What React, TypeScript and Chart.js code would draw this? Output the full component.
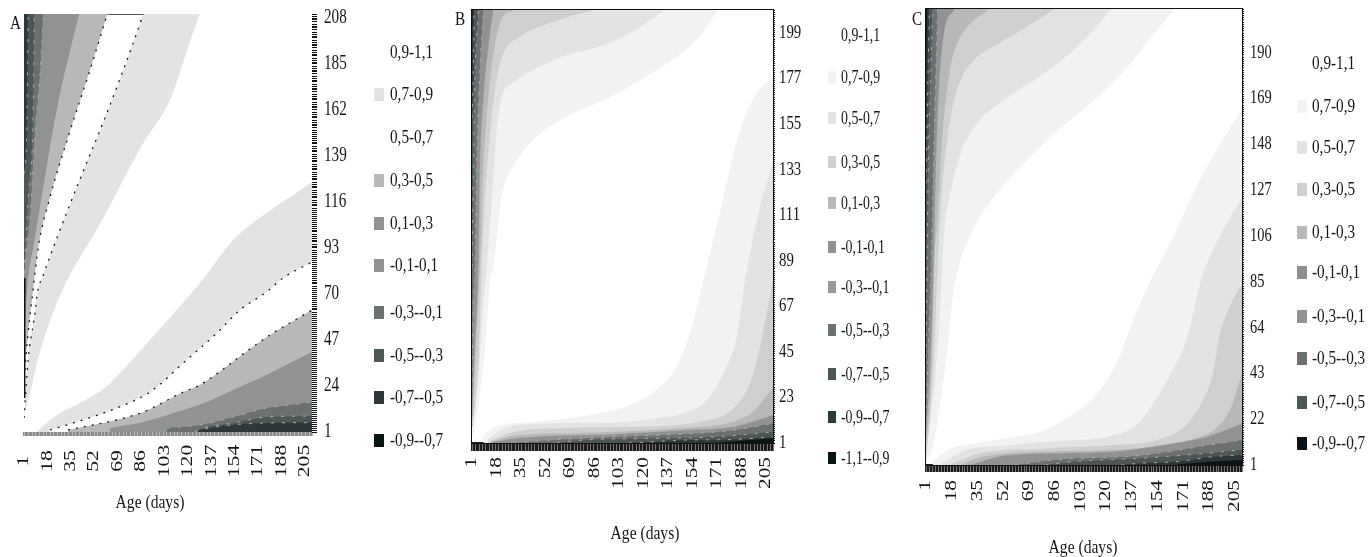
import React, { useEffect, useRef } from "react";
import { Chart, registerables } from "chart.js";

Chart.register(...registerables);

type Pt = [number, number];

// ---------- Shared data ----------
const xTickLabels = [1, 18, 35, 52, 69, 86, 103, 120, 137, 154, 171, 188, 205];
const aYTickLabels = [1, 24, 47, 70, 93, 116, 139, 162, 185, 208];
const bYTickLabels = [1, 23, 45, 67, 89, 111, 133, 155, 177, 199];
const cYTickLabels = [1, 22, 43, 64, 85, 106, 127, 148, 169, 190];
const allDays = Array.from({ length: 210 }, (_, i) => i + 1);

const aLegendLabels = ["0,9-1,1", "0,7-0,9", "0,5-0,7", "0,3-0,5", "0,1-0,3", "-0,1-0,1", "-0,3--0,1", "-0,5--0,3", "-0,7--0,5", "-0,9--0,7"];
const aLegendColors = ["#ffffff", "#e3e3e3", "#ffffff", "#b8b8b8", "#929292", "#929292", "#6d7070", "#4f5656", "#2f3839", "#0a1414"];
const bLegendLabels = ["0,9-1,1", "0,7-0,9", "0,5-0,7", "0,3-0,5", "0,1-0,3", "-0,1-0,1", "-0,3--0,1", "-0,5--0,3", "-0,7--0,5", "-0,9--0,7", "-1,1--0,9"];
const bLegendColors = ["#ffffff", "#f2f2f2", "#e3e3e3", "#cfcfcf", "#b8b8b8", "#929292", "#999999", "#6d7070", "#4f5656", "#2f3839", "#0a1414"];
const cLegendLabels = ["0,9-1,1", "0,7-0,9", "0,5-0,7", "0,3-0,5", "0,1-0,3", "-0,1-0,1", "-0,3--0,1", "-0,5--0,3", "-0,7--0,5", "-0,9--0,7"];
const cLegendColors = ["#ffffff", "#f2f2f2", "#e3e3e3", "#cfcfcf", "#b8b8b8", "#8f8f8f", "#929292", "#6d7070", "#4f5656", "#0a1414"];

// ---------- Panel A contour boundaries (age, day) ----------
const aUpper07: Pt[] = [[1, 8], [1.7, 10.5], [5.4, 20.5], [11, 37], [22, 60.5], [34.4, 79.5], [53.7, 102], [87.6, 145.5], [107, 167], [122.7, 198.7], [128.7, 210]];
const aUpper05: Pt[] = [[1, 8], [1.2, 10], [4, 37], [9, 60.5], [10.7, 70.5], [15, 79.5], [35.6, 117], [62, 162], [80, 195], [87.6, 210]];
const aUpper03: Pt[] = [[1, 24], [1.2, 27], [4, 50.5], [7.6, 72], [11.4, 93.5], [19.9, 118.5], [33, 148.5], [48.9, 182], [61.5, 210]];
const aUpper01: Pt[] = [[1, 50], [4.1, 78.5], [7.8, 93.5], [15, 123.5], [24.7, 162], [35.6, 195], [41, 210]];
const aUpperM03: Pt[] = [[1, 75], [1.7, 83.5], [5.4, 108.5], [9, 150.5], [13, 183.5], [15, 210]];
const aUpperM05: Pt[] = [[1, 80], [4, 117], [7.8, 167], [8.5, 210]];
const aUpperM07: Pt[] = [[1, 130], [3, 150.5], [4, 210]];
const aLower07: Pt[] = [[10.2, 1], [24.7, 9.5], [41.6, 15.5], [61, 23.7], [68.3, 28.7], [92.4, 47], [111.8, 62], [128.7, 75.5], [152.9, 97], [177, 110.5], [194, 118.5], [210, 126]];
const aLower05: Pt[] = [[19.9, 2], [52.5, 9], [68.3, 13], [92.4, 21], [119, 37], [141, 50.5], [157.7, 62], [177, 71], [189, 78], [210, 86]];
const aLower03: Pt[] = [[33, 2], [51, 4.5], [68, 7], [87.6, 11], [116.6, 21], [128.7, 24.5], [148, 33.7], [162, 41], [179.5, 49.5], [194, 55.5], [210, 62]];
const aLower01: Pt[] = [[63.4, 3], [87.6, 6], [111.8, 11], [133.6, 16], [152.9, 22], [177, 29.5], [194, 35.5], [210, 41]];
const aLowerM03: Pt[] = [[104.5, 3], [128.7, 4.5], [152.9, 8.5], [177, 13], [194, 14.5], [210, 16]];
const aLowerM05: Pt[] = [[125, 1], [129, 2.5], [153, 5.5], [177, 8.5], [210, 9]];
const aLowerM07: Pt[] = [[125, 1], [129, 2], [177, 5.5], [210, 5.7]];
const aTopEdge: Pt[] = [[61.5, 210], [87.6, 210]];
const aLeftEdge: Pt[] = [[1.3, 18], [1.4, 78]];

// ---------- Panel B contour boundaries ----------
const bUpper07: Pt[] = [[1, 3], [2, 5.6], [6.6, 25], [11.2, 55.5], [13.5, 79.7], [15.8, 86], [21.6, 120], [29.7, 134.5], [43.6, 147.4], [67, 158.6], [97, 168], [129, 181], [157, 195.7], [172, 210]];
const bUpper05: Pt[] = [[1, 8], [1.9, 10.5], [5.4, 31.4], [8.4, 63.6], [11.2, 86], [14.7, 118], [18, 150.6], [21.6, 168], [29.7, 175], [43.6, 181], [67, 188.4], [83, 191], [106, 197], [135, 210]];
const bUpper03: Pt[] = [[1, 10.5], [3, 18.5], [6, 47.5], [7.7, 86], [10, 118], [13.5, 150.6], [18, 176], [22.8, 189], [34, 197], [55, 203.7], [85, 210]];
const bUpper01: Pt[] = [[1, 15], [3.8, 47.5], [6.5, 86], [8.9, 134.5], [11.2, 158.6], [14.7, 183], [20.4, 203.7], [29.7, 210]];
const bUpperM01: Pt[] = [[1, 9], [3, 47.5], [5.4, 86], [6.6, 134.5], [8.9, 166.7], [13, 195.7], [15.8, 210]];
const bUpperM05: Pt[] = [[1, 15], [1.5, 55], [3, 86], [4.2, 134.5], [6.6, 183], [8.9, 210]];
const bUpperM07: Pt[] = [[1, 86], [2, 134], [3, 175], [5.4, 210]];
const bUpperM09: Pt[] = [[1, 158], [2, 183], [2.4, 210]];
const bUpperM11: Pt[] = [[1, 195], [1.5, 210]];
const bLower07: Pt[] = [[8.9, 4.8], [18, 8.8], [43.6, 11.3], [66.7, 12.9], [89.9, 15.3], [113, 20], [129, 26.6], [143, 37.8], [152.4, 54], [159, 71.6], [164, 86], [173, 112], [185, 147], [196, 167], [210, 178]];
const bLower05: Pt[] = [[12, 3], [25, 8.5], [55, 10.5], [101, 11], [124.6, 12.4], [147.8, 15.3], [164, 21.7], [175.5, 34.6], [184.8, 52], [190.6, 79.7], [201, 115], [210, 136]];
const bLower03: Pt[] = [[13, 2], [32, 6.6], [66.7, 8.3], [124.6, 9], [159, 11.3], [182.5, 17.7], [194, 29.8], [201, 47.5], [205.6, 63.6], [210, 79.7]];
const bLower01: Pt[] = [[14, 1.5], [29.7, 4.5], [78, 6], [124.6, 7.2], [159, 8.8], [182.5, 11.3], [198.7, 17.7], [205.6, 24], [210, 28]];
const bLowerM01: Pt[] = [[15, 1.5], [36.6, 3.6], [101.5, 5.3], [147.8, 7.2], [182.5, 8.8], [210, 14.5]];
const bLowerM05: Pt[] = [[30, 1], [55, 2.4], [101, 4], [148, 5.3], [182.5, 7.2], [210, 10.5]];
const bLowerM07: Pt[] = [[60, 1], [78, 2.4], [124.6, 3.2], [170.9, 4], [210, 6.4]];
const bLowerM09: Pt[] = [[110, 1], [124.6, 1.5], [148, 2.4], [182.5, 2.7], [210, 4]];
const bLowerM11: Pt[] = [[171, 1], [194, 2.4], [210, 3.2]];

// ---------- Panel C contour boundaries ----------
const cUpper07: Pt[] = [[1, 2], [2, 3.3], [6.5, 12.5], [11, 32.4], [15.3, 55], [18.7, 78], [24, 95], [33, 110], [46, 124], [64, 138], [86, 153], [112.5, 168.4], [134.6, 183.7], [152, 199], [165.5, 210]];
const cUpper05: Pt[] = [[1, 10], [2, 12.5], [6.5, 37], [9.8, 66], [13, 107], [17.6, 127], [24, 144], [35, 157.7], [52.9, 168.4], [72.7, 177.6], [88, 185], [108, 197.5], [123.5, 210]];
const cUpper03: Pt[] = [[1, 5], [1.4, 6.4], [3.2, 20], [6.5, 55], [8.7, 92], [11, 122.6], [14.2, 145.5], [18.7, 165.4], [24, 177.6], [33, 186.8], [48.5, 194], [68, 202], [86, 210]];
const cUpper01: Pt[] = [[1, 12], [2, 17], [4.8, 47.7], [6.5, 92], [8.7, 115], [12, 153], [16.5, 180.7], [20.9, 193], [28.6, 202], [43, 210]];
const cUpperM01: Pt[] = [[1, 15], [2, 24.7], [4.3, 55], [6, 92], [7.6, 138], [9.8, 176], [13, 199], [19.8, 210]];
const cUpperM03: Pt[] = [[1, 17], [2.5, 55], [4.3, 92], [5.4, 122.6], [7, 168], [8.7, 210]];
const cUpperM05: Pt[] = [[1, 50], [1.7, 92], [2.5, 138], [3.9, 176], [5.4, 210]];
const cUpperM07: Pt[] = [[1, 130], [2, 168], [3.2, 210]];
const cUpperM09: Pt[] = [[1, 180], [1.7, 210]];
const cLower07: Pt[] = [[5.4, 2.6], [17.6, 8.7], [33, 11], [55, 13.3], [77, 16.3], [99, 24.7], [112.5, 32.4], [125.7, 46], [139, 69], [147.8, 83], [165.5, 107], [183, 133], [198.6, 151.6], [210, 164]];
const cLower05: Pt[] = [[11, 1.8], [26.4, 7.5], [55, 10], [88, 12], [121, 14], [139, 18.6], [150, 27.8], [163, 43], [174, 60], [183, 86], [194, 104], [210, 124]];
const cLower03: Pt[] = [[17.6, 1.5], [37.4, 6.5], [77, 8.5], [121, 10], [154, 12.5], [172, 18.6], [183, 29.3], [190.8, 43], [195, 60], [200.8, 72], [210, 84]];
const cLower01: Pt[] = [[24, 1], [39.6, 5], [99, 7.5], [143, 8.7], [176.5, 12.5], [194, 18.6], [203, 27.8], [210, 43]];
const cLowerM01: Pt[] = [[30, 1], [55, 5.5], [121, 7], [165, 11], [187, 14], [210, 20]];
const cLowerM03: Pt[] = [[60, 1], [88, 3.5], [143, 5.4], [187, 10], [210, 12.5]];
const cLowerM05: Pt[] = [[80, 1], [99, 2.6], [143, 4.1], [187, 6.4], [210, 8]];
const cLowerM07: Pt[] = [[130, 1], [143, 1.8], [167.6, 2.6], [191.9, 4.9], [210, 5.6]];
const cLowerM09: Pt[] = [[167.6, 1.3], [191.9, 2.6], [210, 3.3]];

// ---------- Styling ----------
const SERIF = '"Liberation Serif", "Times New Roman", serif';
const INK = "#161616";

type Line = "none" | "dash" | "speck" | "solid";
type Band = { pts: Pt[]; color: string; fill: "start" | "end" | false; line: Line; width: number };
const band = (pts: Pt[], color: string, fill: "start" | "end" | false, line: Line = "none", width = 0): Band => ({ pts, color, fill, line, width });
const dark = (pts: Pt[], color: string, fill: "start" | "end"): Band => band(pts, color, fill, "speck", 1);

type PanelCfg = {
  letter: string; letterX: number; letterY: number;
  left: number; width: number;
  plot: { l: number; t: number; r: number; b: number };
  bands: Band[];
  yLabels: number[];
  tickLenX: number; tickLenY: number; tickColorX: string; tickWidthX: number; frame: boolean;
  xFont: number; xStretch: number; xAnchor: number; xAlign: "left" | "right" | "center";
  yFont: number; yStretch: number; yTextX: number;
  titleX: number; titleY: number;
  legendLabels: string[]; legendColors: string[]; legendRows: number[];
  swatchX: number; swatchW: number; swatchH: number; textX: number; legendFont: number; legendStretch: number;
};

const panels: PanelCfg[] = [
  {
    letter: "A", letterX: 10, letterY: 24, left: 0, width: 455,
    plot: { l: 24, t: 14, r: 312, b: 432 },
    bands: [
      band(aLeftEdge, "#111111", false, "solid", 2),
      band(aTopEdge, "#555555", false, "solid", 2),
      dark(aUpperM07, "#2f3839", "end"), dark(aUpperM05, "#4f5656", "end"), dark(aUpperM03, "#6d7070", "end"),
      band(aUpper01, "#929292", "end"), band(aUpper03, "#b8b8b8", "end", "dash", 1.3), band(aUpper05, "#ffffff", "end", "dash", 1.3), band(aUpper07, "#e3e3e3", "end"),
      dark(aLowerM07, "#2f3839", "start"), dark(aLowerM05, "#4f5656", "start"), dark(aLowerM03, "#6d7070", "start"),
      band(aLower01, "#929292", "start"), band(aLower03, "#b8b8b8", "start", "dash", 1.3), band(aLower05, "#ffffff", "start", "dash", 1.3), band(aLower07, "#e3e3e3", "start"),
    ],
    yLabels: aYTickLabels, tickLenX: 4, tickLenY: 5, tickColorX: "#8a8a8a", tickWidthX: 1.6, frame: false,
    xFont: 16, xStretch: 1.35, xAnchor: 461, xAlign: "center",
    yFont: 20, yStretch: 0.76, yTextX: 324, titleX: 150, titleY: 503,
    legendLabels: aLegendLabels, legendColors: aLegendColors,
    legendRows: [52, 94, 137, 180, 223, 265, 312, 355, 397, 440],
    swatchX: 374, swatchW: 10, swatchH: 13, textX: 390, legendFont: 19, legendStretch: 0.8,
  },
  {
    letter: "B", letterX: 455, letterY: 20, left: 455, width: 453,
    plot: { l: 472, t: 10, r: 773, b: 443 },
    bands: [
      band(bUpperM11, "#0a1414", "end"), dark(bUpperM09, "#2f3839", "end"), dark(bUpperM07, "#4f5656", "end"), dark(bUpperM05, "#6d7070", "end"),
      dark(bUpperM01, "#929292", "end"), band(bUpper01, "#b8b8b8", "end"), band(bUpper03, "#cfcfcf", "end"), band(bUpper05, "#e3e3e3", "end"), band(bUpper07, "#f2f2f2", "end"),
      band(bLowerM11, "#0a1414", "start"), dark(bLowerM09, "#2f3839", "start"), dark(bLowerM07, "#4f5656", "start"), dark(bLowerM05, "#6d7070", "start"),
      dark(bLowerM01, "#929292", "start"), band(bLower01, "#b8b8b8", "start"), band(bLower03, "#cfcfcf", "start"), band(bLower05, "#e3e3e3", "start"), band(bLower07, "#f2f2f2", "start"),
    ],
    yLabels: bYTickLabels, tickLenX: 8, tickLenY: 2, tickColorX: "#1c1c1c", tickWidthX: 1.6, frame: true,
    xFont: 17, xStretch: 1.25, xAnchor: 457, xAlign: "right",
    yFont: 19, yStretch: 0.78, yTextX: 779, titleX: 645, titleY: 534,
    legendLabels: bLegendLabels, legendColors: bLegendColors,
    legendRows: [35, 77, 118, 162, 203, 247, 287, 330, 374, 417, 458],
    swatchX: 828, swatchW: 8, swatchH: 12, textX: 841, legendFont: 18, legendStretch: 0.77,
  },
  {
    letter: "C", letterX: 912, letterY: 20, left: 908, width: 460,
    plot: { l: 926, t: 9, r: 1242, b: 465 },
    bands: [
      band(cUpperM09, "#0a1414", "end"), dark(cUpperM07, "#2f3839", "end"), dark(cUpperM05, "#4f5656", "end"), dark(cUpperM03, "#6d7070", "end"),
      dark(cUpperM01, "#929292", "end"), band(cUpper01, "#b8b8b8", "end"), band(cUpper03, "#cfcfcf", "end"), band(cUpper05, "#e3e3e3", "end"), band(cUpper07, "#f2f2f2", "end"),
      band(cLowerM09, "#0a1414", "start"), dark(cLowerM07, "#2f3839", "start"), dark(cLowerM05, "#4f5656", "start"), dark(cLowerM03, "#6d7070", "start"),
      dark(cLowerM01, "#929292", "start"), band(cLower01, "#b8b8b8", "start"), band(cLower03, "#cfcfcf", "start"), band(cLower05, "#e3e3e3", "start"), band(cLower07, "#f2f2f2", "start"),
    ],
    yLabels: cYTickLabels, tickLenX: 7, tickLenY: 2, tickColorX: "#1c1c1c", tickWidthX: 1.6, frame: true,
    xFont: 17, xStretch: 1.25, xAnchor: 480, xAlign: "right",
    yFont: 19, yStretch: 0.76, yTextX: 1250, titleX: 1083, titleY: 548,
    legendLabels: cLegendLabels, legendColors: cLegendColors,
    legendRows: [63, 106, 147, 189, 232, 272, 316, 358, 402, 443],
    swatchX: 1297, swatchW: 10, swatchH: 13, textX: 1312, legendFont: 19, legendStretch: 0.8,
  },
];

const lineColor = (b: Band) => (b.line === "dash" ? "#1c1c1c" : b.line === "speck" ? "#a9adad" : b.color);
const lineDash = (b: Band) => (b.line === "dash" ? [2, 6] : b.line === "speck" ? [3, 8] : []);

function Panel({ cfg }: { cfg: PanelCfg }) {
  const ref = useRef<HTMLCanvasElement>(null);

  useEffect(() => {
    const { plot } = cfg;
    const labelPlugin = {
      id: "stretchedLabels",
      afterDraw(chart: any) {
        const ctx = chart.ctx;
        const ox = cfg.left;
        const { chartArea, scales } = chart;
        ctx.save();
        ctx.fillStyle = INK;
        if (cfg.frame) {
          ctx.strokeStyle = "#111111";
          ctx.lineWidth = 1;
          ctx.strokeRect(chartArea.left - 0.5, chartArea.top - 0.5, chartArea.right - chartArea.left + 1, chartArea.bottom - chartArea.top + 1);
        }
        ctx.textBaseline = "middle";
        ctx.textAlign = "left";
        ctx.font = `${cfg.yFont}px ${SERIF}`;
        for (const t of scales.y.ticks) {
          if (!t.label) continue;
          ctx.save();
          ctx.translate(cfg.yTextX - ox, scales.y.getPixelForValue(t.value));
          ctx.scale(cfg.yStretch, 1);
          ctx.fillText(String(t.label), 0, 0);
          ctx.restore();
        }
        ctx.textAlign = cfg.xAlign;
        ctx.font = `${cfg.xFont}px ${SERIF}`;
        for (const t of scales.x.ticks) {
          if (!t.label) continue;
          ctx.save();
          ctx.translate(scales.x.getPixelForValue(t.value), cfg.xAnchor);
          ctx.rotate(-Math.PI / 2);
          ctx.scale(cfg.xStretch, 1);
          ctx.fillText(String(t.label), 0, 0);
          ctx.restore();
        }
        ctx.textAlign = "center";
        ctx.font = `19px ${SERIF}`;
        ctx.save();
        ctx.translate(cfg.titleX - ox, cfg.titleY);
        ctx.scale(0.82, 1);
        ctx.fillText(scales.x.options.title.text, 0, 0);
        ctx.restore();
        ctx.textAlign = "left";
        ctx.save();
        ctx.translate(cfg.letterX - ox, cfg.letterY);
        ctx.scale(0.8, 1);
        ctx.fillText(cfg.letter, 0, 0);
        ctx.restore();
        ctx.restore();
      },
    };

    const chart = new Chart(ref.current!, {
      type: "line",
      data: {
        datasets: cfg.bands.map((b) => ({
          data: b.pts.map(([x, y]) => ({ x, y })),
          fill: b.fill,
          backgroundColor: b.color,
          borderColor: lineColor(b),
          borderWidth: b.width,
          borderDash: lineDash(b),
          pointRadius: 0,
          cubicInterpolationMode: "monotone",
        })),
      },
      options: {
        responsive: false,
        animation: false,
        events: [],
        layout: { padding: { left: plot.l - cfg.left, top: plot.t, right: 0, bottom: 0 } },
        plugins: { legend: { display: false }, tooltip: { enabled: false }, title: { display: false } },
        scales: {
          x: {
            type: "linear", min: 1, max: 210,
            title: { display: false, text: "Age (days)" },
            afterBuildTicks: (s: any) => { s.ticks = allDays.map((value) => ({ value })); },
            afterFit: (s: any) => { s.height = 557 - plot.b; },
            ticks: { display: false, autoSkip: false, callback: (v: any) => (xTickLabels.includes(v) ? String(v) : "") },
            grid: { drawOnChartArea: false, drawTicks: true, tickLength: cfg.tickLenX, color: cfg.tickColorX, lineWidth: cfg.tickWidthX },
            border: { display: cfg.frame, color: "#222222", width: 2 },
          },
          y: {
            type: "linear", position: "right", min: 1, max: 210,
            afterBuildTicks: (s: any) => { s.ticks = allDays.map((value) => ({ value })); },
            afterFit: (s: any) => { s.width = cfg.left + cfg.width - plot.r; },
            ticks: { display: false, autoSkip: false, callback: (v: any) => (cfg.yLabels.includes(v) ? String(v) : "") },
            grid: { drawOnChartArea: false, drawTicks: true, tickLength: cfg.tickLenY, color: "#111111", lineWidth: 1 },
            border: { display: false },
          },
        },
      } as any,
      plugins: [labelPlugin],
    });
    return () => chart.destroy();
  }, [cfg]);

  return (
    <>
      <canvas
        ref={ref}
        width={cfg.width}
        height={557}
        style={{ position: "absolute", left: cfg.left, top: 0, width: cfg.width, height: 557, display: "block" }}
      />
      {cfg.legendLabels.map((label, i) => (
        <React.Fragment key={label}>
          <div
            style={{
              position: "absolute", left: cfg.swatchX, top: cfg.legendRows[i] - cfg.swatchH / 2,
              width: cfg.swatchW, height: cfg.swatchH, background: cfg.legendColors[i],
            }}
          />
          <div
            style={{
              position: "absolute", left: cfg.textX, top: cfg.legendRows[i] - 12, height: 24, lineHeight: "24px",
              fontFamily: SERIF, fontSize: cfg.legendFont, color: INK, whiteSpace: "nowrap",
              transform: `scaleX(${cfg.legendStretch})`, transformOrigin: "left center",
            }}
          >
            {label}
          </div>
        </React.Fragment>
      ))}
    </>
  );
}

export default function App() {
  return (
    <div style={{ position: "absolute", left: 0, top: 0, width: 1368, height: 557, overflow: "hidden", background: "#ffffff" }}>
      {panels.map((p) => (
        <Panel key={p.letter} cfg={p} />
      ))}
    </div>
  );
}
